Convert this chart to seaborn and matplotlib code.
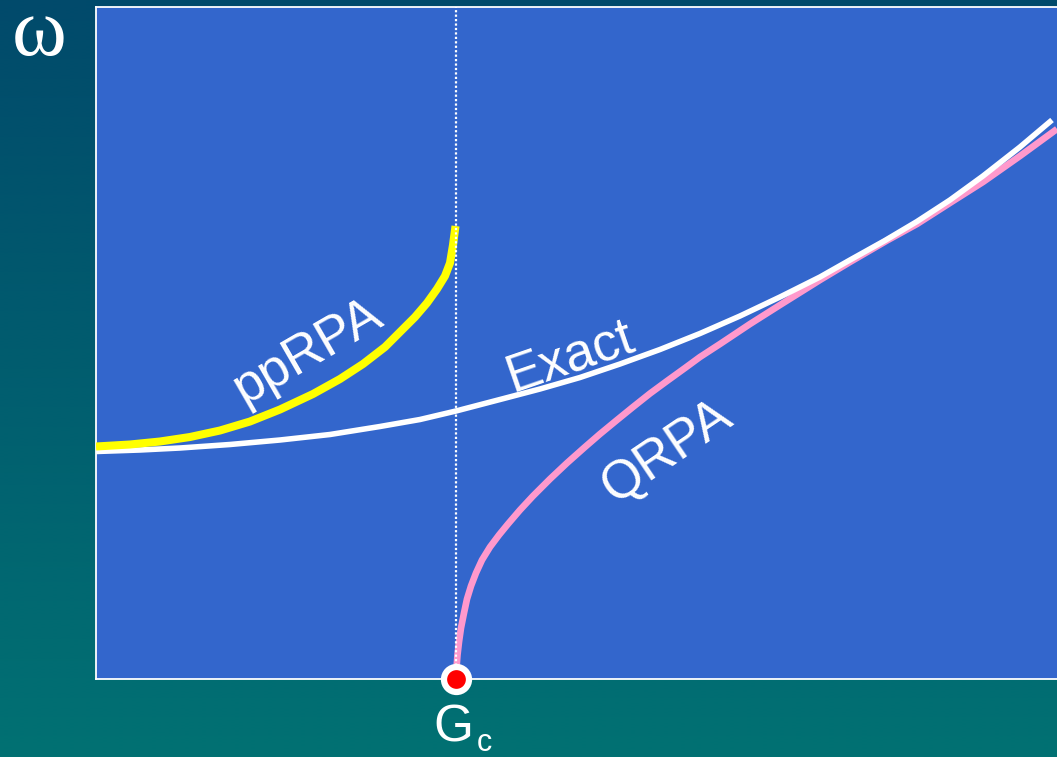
import numpy as np
import pandas as pd
import matplotlib
matplotlib.use("Agg")
import matplotlib.pyplot as plt
import seaborn as sns

# Coupling strength G and excitation energy ω (arbitrary units); G_c is the QRPA collapse point
gc = 3.60
g_max = 9.61
w_max = 6.72

exact_g = [0.00, 0.44, 0.84, 1.34, 1.84, 2.34, 2.84, 3.24, 3.60, 4.04, 4.44, 4.84,
           5.24, 5.64, 6.04, 6.44, 6.84, 7.24, 7.54, 7.89, 8.21, 8.54, 8.87, 9.24, 9.56]
exact_w = [2.275, 2.29, 2.31, 2.345, 2.39, 2.445, 2.525, 2.595, 2.68, 2.795, 2.90, 3.015,
           3.15, 3.295, 3.455, 3.63, 3.82, 4.02, 4.19, 4.385, 4.575, 4.79, 5.03, 5.32, 5.59]

pprpa_g = [0.00, 0.34, 0.64, 0.94, 1.24, 1.54, 1.84, 2.17, 2.44, 2.67, 2.89, 3.04,
           3.19, 3.31, 3.41, 3.49, 3.54, 3.57, 3.595]
pprpa_w = [2.325, 2.345, 2.375, 2.42, 2.485, 2.575, 2.695, 2.85, 3.00, 3.15, 3.32, 3.47,
           3.62, 3.76, 3.90, 4.03, 4.16, 4.34, 4.53]

qrpa_g = [3.600, 3.605, 3.615, 3.63, 3.65, 3.68, 3.71, 3.75, 3.80, 3.86, 3.94, 4.03,
          4.12, 4.24, 4.37, 4.54, 4.71, 4.89, 5.04, 5.21, 5.37, 5.54, 5.71, 5.89,
          6.04, 6.24, 6.54, 6.84, 7.24, 7.54, 7.91, 8.21, 8.57, 8.87, 9.24, 9.61]
qrpa_w = [0.00, 0.11, 0.24, 0.37, 0.51, 0.66, 0.80, 0.93, 1.06, 1.19, 1.32, 1.44,
          1.55, 1.69, 1.83, 2.00, 2.16, 2.32, 2.45, 2.59, 2.72, 2.855, 2.98, 3.11,
          3.22, 3.35, 3.55, 3.74, 3.99, 4.17, 4.385, 4.55, 4.78, 4.97, 5.23, 5.50]

W, H = 1057, 757
sns.set_style("white")
plt.rcParams["font.family"] = ["Liberation Sans", "DejaVu Sans"]
# upright serif omega for the axis symbol
plt.rcParams["mathtext.fontset"] = "custom"
plt.rcParams["mathtext.rm"] = "Liberation Serif"

fig = plt.figure(figsize=(W / 100, H / 100), dpi=100)

# vertical teal gradient behind everything
bg = fig.add_axes([0, 0, 1, 1], zorder=0)
top = np.array([1, 74, 107]) / 255
bot = np.array([1, 113, 115]) / 255
t = np.linspace(0, 1, 256)[:, None]
grad = (top[None, :] * (1 - t) + bot[None, :] * t)[:, None, :]
bg.imshow(grad, aspect="auto", extent=[0, 1, 0, 1], interpolation="bilinear")
bg.set_axis_off()

ax = fig.add_axes([96 / W, 1 - 679 / H, (W - 96) / W, 672 / H], zorder=1)
ax.set_facecolor("#3366CC")
ax.set_xlim(0, g_max)
ax.set_ylim(0, w_max)

curves = pd.concat([
    pd.DataFrame({"G": qrpa_g, "omega": qrpa_w, "method": "QRPA"}),
    pd.DataFrame({"G": exact_g, "omega": exact_w, "method": "Exact"}),
    pd.DataFrame({"G": pprpa_g, "omega": pprpa_w, "method": "ppRPA"}),
])
styles = {"QRPA": ("#FF99CC", 4.8, 3), "Exact": ("white", 4.0, 4), "ppRPA": ("#FFFF00", 5.8, 5)}
for name, (col, lw, z) in styles.items():
    sub = curves[curves["method"] == name]
    sns.lineplot(data=sub, x="G", y="omega", ax=ax, color=col, linewidth=lw,
                 estimator=None, sort=False, zorder=z, solid_capstyle="butt",
                 solid_joinstyle="round")

ax.axvline(gc, color="white", lw=1.6, ls=(0, (1, 1)), zorder=6)
ax.plot([gc], [0], "o", ms=18, mfc="red", mec="white", mew=4.5,
        clip_on=False, zorder=10)

for side in ["left", "top", "bottom"]:
    ax.spines[side].set_color("white")
    ax.spines[side].set_linewidth(1.3)
ax.spines["right"].set_visible(False)
ax.set_xticks([])
ax.set_yticks([])
ax.set_xlabel("")
ax.set_ylabel("")

lab = dict(color="white", fontsize=38, ha="center", va="center", rotation_mode="anchor")
ax.text(2.12, 3.27, "ppRPA", rotation=30, **lab)
ax.text(4.74, 3.22, "Exact", rotation=19, **lab)
ax.text(5.71, 2.27, "QRPA", rotation=34, **lab)

fig.text(38 / W, 1 - 55 / H, r"$\mathrm{\omega}$", color="white", fontsize=60,
         ha="center", va="baseline")
fig.text(453 / W, 1 - 742 / H, "G", color="white", fontsize=37, ha="center", va="baseline")
fig.text(484 / W, 1 - 751 / H, "c", color="white", fontsize=22, ha="center", va="baseline")

fig.savefig("out.png", dpi=100)
